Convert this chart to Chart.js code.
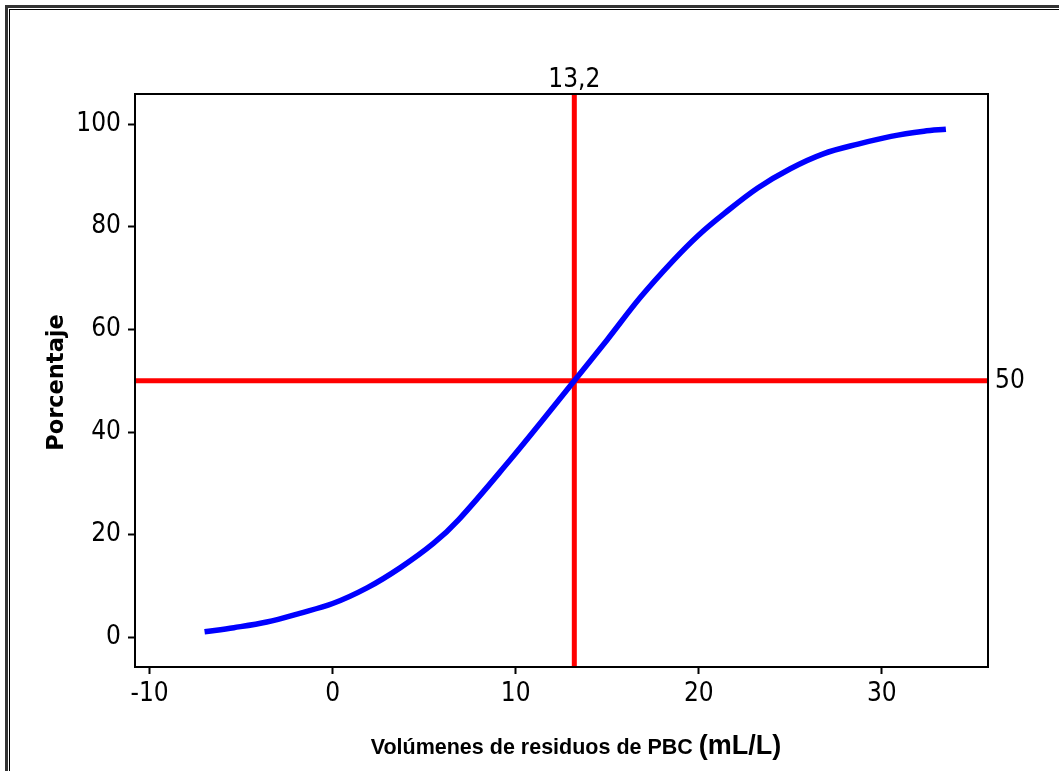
<!DOCTYPE html>
<html>
<head>
<meta charset="utf-8">
<script src="https://cdn.jsdelivr.net/npm/chart.js@4.4.1/dist/chart.umd.min.js"></script>
<style>
  html, body { margin: 0; padding: 0; background: #fff; }
  #wrap { width: 1059px; height: 771px; position: relative; }
</style>
</head>
<body>
<div id="wrap"><canvas id="c" width="1059" height="771"></canvas></div>
<script>
// ---- data ----
const curveX = [-7, -5.4, -3.6, -1.8, 0, 1.9, 3.7, 5.5, 6.9, 9.7, 11.4, 13.2, 15, 16.8, 18.6, 20, 21.4, 23.2, 25, 26.8, 28.7, 30.5, 32.3, 33.5];
const curveY = [1.1, 1.9, 3.0, 4.7, 6.6, 9.7, 13.6, 18.3, 23.0, 34.6, 42.0, 50, 58, 66.2, 73.4, 78.4, 82.6, 87.5, 91.3, 94.2, 96.1, 97.6, 98.6, 99.0];
const refX = 13.2;          // vertical reference line
const refY = 50;            // horizontal reference line
const refXLabel = "13,2";
const refYLabel = "50";
const xTicks = [-10, 0, 10, 20, 30];
const yTicks = [0, 20, 40, 60, 80, 100];
const xRange = [-10.8, 35.8];
const yRange = [-5.76, 105.85];
const xTitle = "Volúmenes de residuos de PBC";
const xTitleUnit = "(mL/L)";
const yTitle = "Porcentaje";

const tickFont = "'Liberation Sans Narrow', 'DejaVu Sans Condensed', 'Arial Narrow', sans-serif";

const curve = curveX.map((x, i) => ({x: x, y: curveY[i]}));

const frameAndText = {
  id: 'frameAndText',
  beforeDraw(chart) {
    const ctx = chart.ctx;
    ctx.save();
    ctx.fillStyle = '#fff';
    ctx.fillRect(0, 0, chart.width, chart.height);
    // double frame (left & top visible)
    ctx.fillStyle = '#333';
    ctx.fillRect(5, 5, chart.width, 3);
    ctx.fillRect(5, 5, 3, chart.height);
    ctx.fillStyle = '#000';
    ctx.fillRect(9, 9, chart.width, 1);
    ctx.fillRect(9, 9, 1, chart.height);
    ctx.restore();
  },
  afterDraw(chart) {
    const ctx = chart.ctx;
    const a = chart.chartArea;
    const xs = chart.scales.x, ys = chart.scales.y;
    ctx.save();
    // plot border
    ctx.strokeStyle = '#000';
    ctx.lineWidth = 2;
    ctx.strokeRect(a.left, a.top, a.right - a.left, a.bottom - a.top);
    // reference labels
    ctx.fillStyle = '#000';
    ctx.font = "26px " + tickFont;
    ctx.textAlign = 'center';
    ctx.textBaseline = 'alphabetic';
    ctx.fillText(refXLabel, xs.getPixelForValue(refX), a.top - 7);
    ctx.textAlign = 'left';
    ctx.textBaseline = 'middle';
    ctx.fillText(refYLabel, a.right + 7, ys.getPixelForValue(refY) + 1);
    // x title (mixed sizes)
    ctx.textBaseline = 'alphabetic';
    const f1 = "bold 21.5px 'Liberation Sans', Arial, sans-serif";
    const f2 = "bold 27px 'Liberation Sans', Arial, sans-serif";
    ctx.font = f1;
    const w1 = ctx.measureText(xTitle + " ").width;
    ctx.font = f2;
    const w2 = ctx.measureText(xTitleUnit).width;
    const cx = 576;
    let sx = cx - (w1 + w2) / 2;
    const by = 754;
    ctx.textAlign = 'left';
    ctx.font = f1;
    ctx.fillText(xTitle + " ", sx, by);
    ctx.font = f2;
    ctx.fillText(xTitleUnit, sx + w1, by);
    // y title
    ctx.translate(63, (a.top + a.bottom) / 2 + 2);
    ctx.rotate(-Math.PI / 2);
    ctx.font = "bold 22.5px 'DejaVu Sans', Verdana, sans-serif";
    ctx.textAlign = 'center';
    ctx.textBaseline = 'alphabetic';
    ctx.fillText(yTitle, 0, 0);
    ctx.restore();
  }
};

new Chart(document.getElementById('c'), {
  type: 'scatter',
  data: {
    datasets: [
      {
        label: 'curve',
        data: curve,
        showLine: true,
        borderColor: '#0000FF',
        borderWidth: 5.5,
        pointRadius: 0,
        tension: 0.35,
        borderCapStyle: 'butt',
        order: 1
      },
      {
        label: 'vref',
        data: [{x: refX, y: yRange[0]}, {x: refX, y: yRange[1]}],
        showLine: true,
        borderColor: '#FF0000',
        borderWidth: 5,
        pointRadius: 0,
        order: 2
      },
      {
        label: 'href',
        data: [{x: xRange[0], y: refY}, {x: xRange[1], y: refY}],
        showLine: true,
        borderColor: '#FF0000',
        borderWidth: 5,
        pointRadius: 0,
        order: 2
      }
    ]
  },
  options: {
    responsive: false,
    animation: false,
    devicePixelRatio: 1,
    layout: { padding: { left: 0, right: 71, top: 94, bottom: 0 } },
    plugins: { legend: { display: false }, tooltip: { enabled: false } },
    scales: {
      x: {
        type: 'linear',
        min: xRange[0], max: xRange[1],
        afterBuildTicks: s => { s.ticks = xTicks.map(v => ({value: v})); },
        afterFit: s => { s.height = 104; },
        grid: { drawOnChartArea: false, drawTicks: true, tickLength: 7, tickWidth: 2, color: '#000' },
        border: { display: false },
        ticks: { color: '#000', font: { family: tickFont, size: 26 }, padding: 5, maxRotation: 0, autoSkip: false }
      },
      y: {
        type: 'linear',
        min: yRange[0], max: yRange[1],
        afterBuildTicks: s => { s.ticks = yTicks.map(v => ({value: v})); },
        afterFit: s => { s.width = 135; },
        grid: { drawOnChartArea: false, drawTicks: true, tickLength: 7, tickWidth: 2, color: '#000' },
        border: { display: false },
        ticks: { color: '#000', font: { family: tickFont, size: 26 }, padding: 7 }
      }
    }
  },
  plugins: [frameAndText]
});
</script>
</body>
</html>
